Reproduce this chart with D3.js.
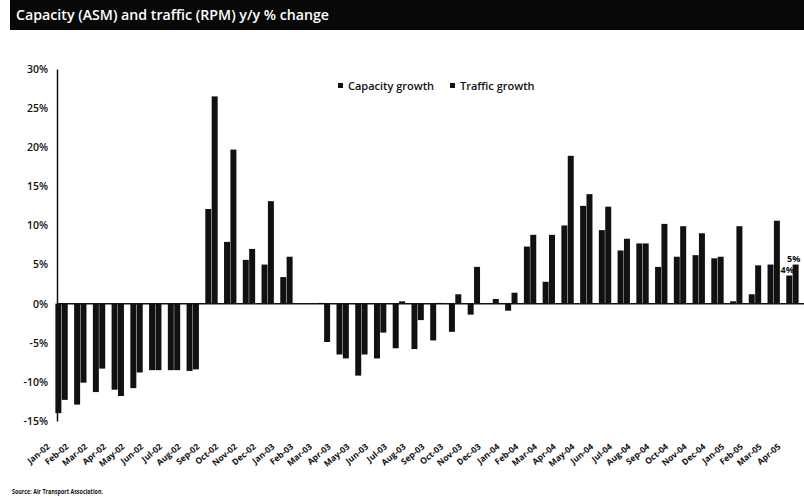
<!DOCTYPE html>
<html>
<head>
<meta charset="utf-8">
<script src="https://cdn.jsdelivr.net/npm/d3@7"></script>
<style>
  body { margin: 0; background: #fff; }
  svg { display: block; font-family: "Open Sans", "Noto Sans", sans-serif; }
</style>
</head>
<body>
<svg id="chart"></svg>
<script>
// months on the x axis
const months = [
    "Jan-02", "Feb-02", "Mar-02", "Apr-02", "May-02", "Jun-02", "Jul-02", "Aug-02", "Sep-02", "Oct-02", "Nov-02", "Dec-02",
    "Jan-03", "Feb-03", "Mar-03", "Apr-03", "May-03", "Jun-03", "Jul-03", "Aug-03", "Sep-03", "Oct-03", "Nov-03", "Dec-03",
    "Jan-04", "Feb-04", "Mar-04", "Apr-04", "May-04", "Jun-04", "Jul-04", "Aug-04", "Sep-04", "Oct-04", "Nov-04", "Dec-04",
    "Jan-05", "Feb-05", "Mar-05", "Apr-05"
];

// y/y % change
const capacityGrowth = [
    -14.0, -12.9, -11.3, -11.0, -10.8, -8.5, -8.5, -8.6, 12.1, 7.9, 5.6, 5.0,
    3.4, 0.0, 0.1, -6.5, -9.2, -7.0, -5.7, -5.8, -4.7, -3.6, -1.4, 0.0,
    -0.9, 7.3, 2.8, 10.0, 12.5, 9.4, 6.8, 7.7, 4.7, 6.0, 6.2, 5.8,
    0.3, 1.2, 5.0, 3.6
];
const trafficGrowth = [
    -12.3, -10.1, -8.3, -11.8, -8.8, -8.5, -8.5, -8.4, 26.5, 19.7, 7.0, 13.1,
    6.0, 0.0, -4.9, -7.0, -6.5, -3.7, 0.3, -2.1, 0.1, 1.2, 4.7, 0.6,
    1.4, 8.8, 8.8, 18.9, 14.0, 12.4, 8.3, 7.7, 10.2, 9.9, 9.0, 6.0,
    9.9, 4.9, 10.6, 5.0
];

const seriesNames = ["Capacity growth", "Traffic growth"];
const yTicks = [-15, -10, -5, 0, 5, 10, 15, 20, 25, 30];
const titleText = "Capacity (ASM) and traffic (RPM) y/y % change";
const sourceText = "Source: Air Transport Association.";

let capacityChart = function (options) {
    let self = {};

    for (let key in options) {
        self[key] = options[key];
    }

    self.ink = "#111";

    self.init = function () {
        self.svg = d3.select("#" + self.parent_id)
            .attr("width", self.width)
            .attr("height", self.height);

        self.svg.selectAll("*").remove();

        self.header = self.svg.append("g");
        self.plot = self.svg.append("g");
        self.axes = self.svg.append("g");
        self.labels = self.svg.append("g");
    };

    self.render = function () {
        // title band
        self.header.append("rect")
            .attr("x", 10).attr("y", 0)
            .attr("width", self.width - 10).attr("height", 30)
            .attr("fill", "#080808");

        self.header.append("text")
            .attr("x", 16).attr("y", 20)
            .attr("fill", "#fff")
            .attr("font-size", "14.2px")
            .attr("font-weight", 600)
            .text(titleText);

        let x0 = d3.scaleBand()
            .domain(months)
            .range([55, 799])
            .paddingInner(0.3)
            .paddingOuter(0);

        let x1 = d3.scaleBand()
            .domain(seriesNames)
            .range([0, x0.bandwidth()])
            .padding(0.06);

        let y = d3.scaleLinear()
            .domain([-15, 30])
            .range([421, 69]);

        let rows = months.map(function (m, i) {
            return {month: m, values: [capacityGrowth[i], trafficGrowth[i]]};
        });

        let groups = self.plot.selectAll("g")
            .data(rows)
            .enter()
            .append("g")
            .attr("transform", function (d) { return "translate(" + x0(d.month) + ",0)"; });

        groups.selectAll("rect")
            .data(function (d) {
                return d.values.map(function (v, k) { return {name: seriesNames[k], value: v}; });
            })
            .enter()
            .append("rect")
            .attr("x", function (d) { return x1(d.name); })
            .attr("width", x1.bandwidth())
            .attr("y", function (d) { return y(Math.max(0, d.value)); })
            .attr("height", function (d) { return Math.abs(y(d.value) - y(0)); })
            .attr("fill", self.ink);

        // y axis
        let yAxis = d3.axisLeft(y)
            .tickValues(yTicks)
            .tickSize(0)
            .tickPadding(9)
            .tickFormat(function (d) { return d + "%"; });

        let ya = self.axes.append("g")
            .attr("transform", "translate(57,0)")
            .call(yAxis);
        ya.select(".domain").attr("stroke", self.ink).attr("stroke-width", 1.5);
        ya.selectAll("text")
            .attr("fill", self.ink)
            .attr("font-size", "10.5px")
            .attr("font-weight", 600)
            .attr("font-family", "'Open Sans', sans-serif");

        // zero line
        self.axes.append("line")
            .attr("x1", 57).attr("x2", self.width)
            .attr("y1", y(0)).attr("y2", y(0))
            .attr("stroke", self.ink)
            .attr("stroke-width", 1.5);

        // x labels, rotated, along the bottom
        let xAxis = d3.axisBottom(x0).tickSize(0).tickPadding(0);
        let xa = self.axes.append("g")
            .attr("transform", "translate(-15,443)")
            .call(xAxis);
        xa.select(".domain").remove();
        xa.selectAll("text")
            .attr("fill", self.ink)
            .attr("font-size", "8.5px")
            .attr("font-weight", 700)
            .attr("font-family", "'Open Sans', sans-serif")
            .attr("text-anchor", "end")
            .attr("dy", "0.7em")
            .attr("transform", "rotate(-40)");

        // value labels on the last month
        let last = rows[rows.length - 1];
        self.labels.selectAll("text.end")
            .data(last.values.map(function (v, k) { return {name: seriesNames[k], value: v}; }))
            .enter()
            .append("text")
            .attr("class", "end")
            .attr("x", function (d) { return x0(last.month) + x1(d.name) + x1.bandwidth() / 2 - 2; })
            .attr("y", function (d) { return y(d.value) - 3; })
            .attr("text-anchor", "middle")
            .attr("font-size", "9px")
            .attr("font-weight", 700)
            .attr("fill", self.ink)
            .text(function (d) { return Math.round(d.value) + "%"; });

        // legend
        let legend = self.labels.append("g").attr("transform", "translate(338,89)");
        let lx = [0, 112];
        seriesNames.forEach(function (name, k) {
            let g = legend.append("g").attr("transform", "translate(" + lx[k] + ",0)");
            g.append("rect")
                .attr("x", 0).attr("y", -6)
                .attr("width", 5).attr("height", 5)
                .attr("fill", self.ink);
            g.append("text")
                .attr("x", 10).attr("y", 0)
                .attr("dy", "0.1em")
                .attr("font-size", "11px")
                .attr("font-weight", 600)
                .attr("fill", self.ink)
                .text(name);
        });

        // source
        self.labels.append("text")
            .attr("x", 12).attr("y", 494)
            .attr("font-size", "7.5px")
            .attr("font-weight", 700)
            .attr("fill", self.ink)
            .attr("textLength", 91)
            .attr("lengthAdjust", "spacingAndGlyphs")
            .text(sourceText);
    };

    self.init();
    return self;
};

let chart = capacityChart({parent_id: "chart", width: 804, height: 504});
chart.render();
</script>
</body>
</html>
